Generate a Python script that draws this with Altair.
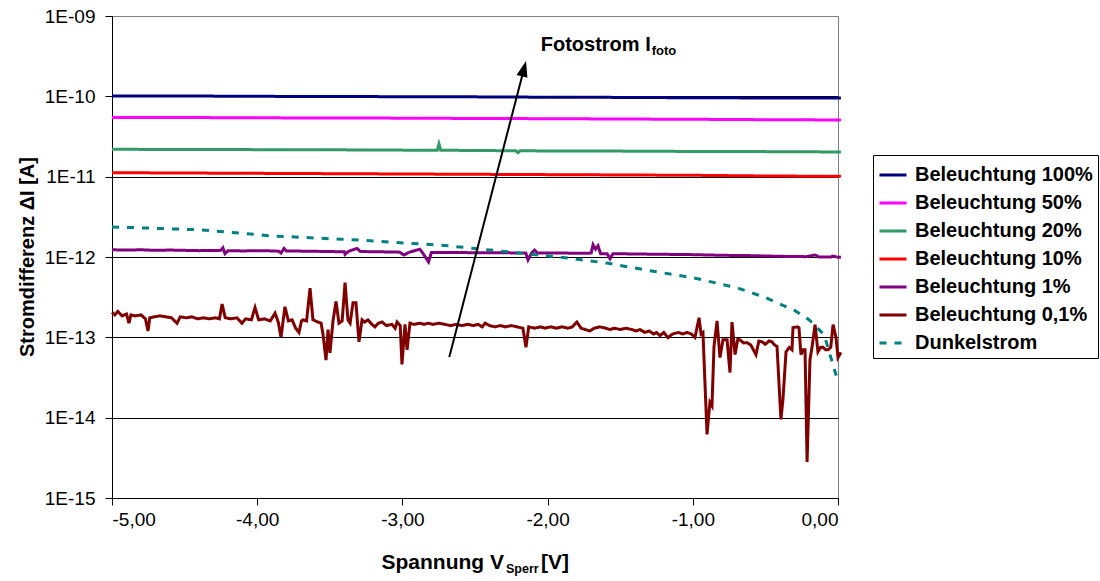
import altair as alt
import pandas as pd

FONT = "Liberation Sans"

series_names = ["Beleuchtung 100%", "Beleuchtung 50%", "Beleuchtung 20%", "Beleuchtung 10%",
                "Beleuchtung 1%", "Beleuchtung 0,1%", "Dunkelstrom"]
series_colors = ["#000080", "#FF00FF", "#339966", "#FF0000", "#800080", "#800000", "#008080"]
series_dash = [[1, 0], [1, 0], [1, 0], [1, 0], [1, 0], [1, 0], [7, 8]]
series_width = [3, 3, 3, 3, 3, 3.5, 4]

x_ticks = [-5, -4, -3, -2, -1, 0]
y_ticks = [1e-15, 1e-14, 1e-13, 1e-12, 1e-11, 1e-10, 1e-9]

# Beleuchtung 100 %
v_100 = [-5.0, -4.5, -4.0, -3.5, -3.0, -2.5, -2.0, -1.5, -1.0, -0.5, 0.0, 0.02]
i_100 = [1.01e-10, 1.01e-10, 1.0e-10, 0.995e-10, 0.99e-10, 0.985e-10, 0.975e-10, 0.97e-10, 0.96e-10, 0.955e-10, 0.95e-10, 0.95e-10]

# Beleuchtung 50 %
v_50 = [-5.0, -4.5, -4.0, -3.5, -3.0, -2.5, -2.0, -1.5, -1.0, -0.5, 0.0, 0.02]
i_50 = [5.45e-11, 5.45e-11, 5.4e-11, 5.38e-11, 5.35e-11, 5.3e-11, 5.27e-11, 5.22e-11, 5.18e-11, 5.12e-11, 5.08e-11, 5.07e-11]

# Beleuchtung 20 %
v_20 = [-5.0, -4.5, -4.0, -3.5, -3.0, -2.76, -2.748, -2.736, -2.5, -2.22, -2.204, -2.19, -2.0, -1.5, -1.0, -0.5, 0.0, 0.02]
i_20 = [2.19e-11, 2.18e-11, 2.17e-11, 2.16e-11, 2.14e-11, 2.13e-11, 2.55e-11, 2.13e-11, 2.12e-11, 2.1e-11, 1.99e-11, 2.1e-11, 2.09e-11, 2.08e-11, 2.06e-11, 2.05e-11, 2.03e-11, 2.03e-11]

# Beleuchtung 10 %
v_10 = [-5.0, -4.5, -4.0, -3.5, -3.0, -2.5, -2.0, -1.5, -1.0, -0.5, 0.0, 0.02]
i_10 = [1.12e-11, 1.11e-11, 1.1e-11, 1.09e-11, 1.08e-11, 1.07e-11, 1.06e-11, 1.05e-11, 1.04e-11, 1.02e-11, 1.01e-11, 1.01e-11]

# Beleuchtung 1 %
v_1 = [-5.0, -4.9, -4.8, -4.7, -4.6, -4.5, -4.4, -4.25, -4.236, -4.222, -4.2, -4.1, -3.95, -3.85,
       -3.836, -3.815, -3.8, -3.65, -3.5, -3.4, -3.395, -3.37, -3.312, -3.29, -3.15, -3.02, -2.99,
       -2.95, -2.88, -2.86, -2.82, -2.8, -2.65, -2.5, -2.35, -2.15, -2.135, -2.11, -2.09, -2.07,
       -1.9, -1.75, -1.70, -1.687, -1.67, -1.653, -1.635, -1.59, -1.570, -1.55, -1.4, -1.2, -1.0,
       -0.8, -0.6, -0.4, -0.22, -0.158, -0.13, -0.05, -0.034, 0.0, 0.02]
i_1 = [1.23e-12, 1.22e-12, 1.23e-12, 1.21e-12, 1.22e-12, 1.21e-12, 1.2e-12, 1.21e-12, 1.3e-12, 1.1e-12, 1.2e-12,
       1.19e-12, 1.2e-12, 1.18e-12, 1.12e-12, 1.28e-12, 1.19e-12, 1.18e-12, 1.17e-12, 1.16e-12, 1.08e-12,
       1.18e-12, 1.28e-12, 1.17e-12, 1.16e-12, 1.15e-12, 1.06e-12, 1.15e-12, 1.25e-12, 1.12e-12, 8.7e-13,
       1.14e-12, 1.14e-12, 1.13e-12, 1.13e-12, 1.12e-12, 9.2e-13, 1.12e-12, 1.22e-12, 1.12e-12, 1.12e-12,
       1.11e-12, 1.12e-12, 1.42e-12, 1.25e-12, 1.38e-12, 1.1e-12, 1.1e-12, 9.5e-13, 1.1e-12, 1.09e-12,
       1.08e-12, 1.07e-12, 1.05e-12, 1.04e-12, 1.02e-12, 1.01e-12, 1.06e-12, 1.0e-12, 1.0e-12, 1.03e-12,
       0.99e-12, 0.99e-12]

# Beleuchtung 0,1 %
v_01 = [-5.00, -4.98, -4.96, -4.93, -4.90, -4.883, -4.87, -4.84, -4.80, -4.77, -4.752, -4.74, -4.71,
        -4.67, -4.63, -4.59, -4.552, -4.53, -4.49, -4.45, -4.41, -4.37, -4.33, -4.29, -4.26, -4.242,
        -4.22, -4.18, -4.14, -4.105, -4.08, -4.04, -4.015, -3.99, -3.95, -3.91, -3.877, -3.855, -3.836,
        -3.809, -3.785, -3.760, -3.735, -3.712, -3.695, -3.685, -3.66, -3.636, -3.616, -3.60, -3.581,
        -3.56, -3.547, -3.526, -3.512, -3.499, -3.478, -3.457, -3.437, -3.415, -3.395, -3.375, -3.36,
        -3.340, -3.320, -3.299, -3.278, -3.26, -3.237, -3.21, -3.189, -3.165, -3.140, -3.11, -3.072,
        -3.05, -3.037, -3.015, -3.003, -2.982, -2.968, -2.948, -2.92, -2.88, -2.85, -2.824, -2.79,
        -2.75, -2.707, -2.67, -2.63, -2.590, -2.55, -2.51, -2.479, -2.45, -2.431, -2.40, -2.36, -2.328,
        -2.29, -2.25, -2.21, -2.17, -2.149, -2.13, -2.09, -2.05, -2.018, -1.98, -1.94, -1.90, -1.86,
        -1.83, -1.798, -1.77, -1.74, -1.708, -1.68, -1.64, -1.60, -1.57, -1.54, -1.50, -1.46, -1.42,
        -1.39, -1.364, -1.33, -1.30, -1.27, -1.25, -1.226, -1.20, -1.171, -1.14, -1.10, -1.07, -1.040,
        -1.01, -0.985, -0.957, -0.943, -0.930, -0.902, -0.882, -0.868, -0.854, -0.833, -0.813, -0.792,
        -0.764, -0.744, -0.730, -0.709, -0.690, -0.675, -0.65, -0.627, -0.60, -0.565, -0.545, -0.523,
        -0.50, -0.475, -0.455, -0.435, -0.420, -0.393, -0.379, -0.358, -0.335, -0.317, -0.310, -0.28,
        -0.269, -0.255, -0.240, -0.227, -0.213, -0.193, -0.179, -0.158, -0.138, -0.12, -0.103, -0.085,
        -0.069, -0.050, -0.034, -0.014, 0.000, 0.02]
i_01 = [2.05e-13, 1.9e-13, 2.1e-13, 1.85e-13, 1.95e-13, 1.5e-13, 1.9e-13, 1.85e-13, 1.9e-13, 1.7e-13,
        1.2e-13, 1.75e-13, 1.8e-13, 1.85e-13, 1.8e-13, 1.75e-13, 1.5e-13, 1.8e-13, 1.75e-13, 1.8e-13,
        1.7e-13, 1.75e-13, 1.7e-13, 1.75e-13, 1.7e-13, 2.6e-13, 1.75e-13, 1.7e-13, 1.75e-13, 1.5e-13,
        1.7e-13, 1.65e-13, 2.35e-13, 1.65e-13, 1.7e-13, 1.6e-13, 2.0e-13, 1.55e-13, 1.0e-13, 2.4e-13,
        1.6e-13, 1.65e-13, 1.3e-13, 1.15e-13, 1.6e-13, 1.65e-13, 1.6e-13, 4.1e-13, 1.65e-13, 1.6e-13,
        1.55e-13, 1.5e-13, 1.1e-13, 5.2e-14, 1.25e-13, 6.4e-14, 1.6e-13, 2.8e-13, 1.5e-13, 1.6e-13,
        4.8e-13, 1.65e-13, 1.5e-13, 2.7e-13, 2.7e-13, 8.8e-14, 1.65e-13, 1.55e-13, 1.65e-13, 1.45e-13,
        1.35e-13, 1.5e-13, 1.55e-13, 1.4e-13, 1.45e-13, 1.3e-13, 1.55e-13, 1.4e-13, 4.6e-14, 1.45e-13,
        7.0e-14, 1.5e-13, 1.45e-13, 1.5e-13, 1.45e-13, 1.5e-13, 1.45e-13, 1.5e-13, 1.45e-13, 1.4e-13,
        1.45e-13, 1.4e-13, 1.45e-13, 1.4e-13, 1.45e-13, 1.35e-13, 1.5e-13, 1.4e-13, 1.35e-13, 1.4e-13,
        1.35e-13, 1.4e-13, 1.35e-13, 1.3e-13, 7.5e-14, 1.35e-13, 1.3e-13, 1.35e-13, 1.3e-13, 1.35e-13,
        1.3e-13, 1.35e-13, 1.3e-13, 1.35e-13, 1.55e-13, 1.3e-13, 1.25e-13, 1.2e-13, 1.3e-13, 1.35e-13,
        1.3e-13, 1.25e-13, 1.3e-13, 1.25e-13, 1.3e-13, 1.25e-13, 1.2e-13, 1.25e-13, 1.15e-13, 1.2e-13,
        1.1e-13, 1.15e-13, 1.05e-13, 1.15e-13, 9.9e-14, 1.1e-13, 1.15e-13, 1.1e-13, 1.15e-13, 1.1e-13,
        1.0e-13, 1.75e-13, 1.1e-13, 1.15e-13, 6.2e-15, 1.55e-14, 1.4e-14, 7.7e-14, 1.6e-13, 5.6e-14,
        9.3e-14, 9.3e-14, 3.65e-14, 1.55e-13, 6.1e-14, 9.5e-14, 9.3e-14, 8.5e-14, 8.6e-14, 8.0e-14,
        6.1e-14, 9.0e-14, 8.8e-14, 8.2e-14, 9.0e-14, 8.8e-14, 8.0e-14, 7.7e-14, 9.5e-15, 1.7e-14,
        6.6e-14, 7.5e-14, 7.0e-14, 1.32e-13, 1.35e-13, 1.32e-13, 6.1e-14, 7.0e-14, 7.0e-14, 2.8e-15,
        5.3e-14, 7.5e-14, 1.44e-13, 6.6e-14, 7.5e-14, 7.5e-14, 7.0e-14, 7.0e-14, 7.5e-14, 1.44e-13,
        1.0e-13, 5.6e-14, 6.5e-14]

# Dunkelstrom
v_dark = [-5.0, -4.394, -3.898, -3.292, -2.707, -2.293, -1.894, -1.591, -1.295, -0.999, -0.696,
          -0.496, -0.296, -0.200, -0.096, 0.0]
i_dark = [2.37e-12, 2.18e-12, 1.83e-12, 1.62e-12, 1.39e-12, 1.17e-12, 9.86e-13, 8.4e-13, 6.74e-13,
          5.52e-13, 4.14e-13, 3.11e-13, 2.15e-13, 1.66e-13, 1.08e-13, 2.82e-14]

# Annotation arrow (data coordinates)
arrow_v = [-2.677]
arrow_i = [5.71e-14]
arrow_v2 = [-2.1625]
arrow_i2 = [2.21e-10]
arrow_angle = 14.5

series_v = [v_100, v_50, v_20, v_10, v_1, v_01, v_dark]
series_i = [i_100, i_50, i_20, i_10, i_1, i_01, i_dark]

rows = []
for name, vs, cs in zip(series_names, series_v, series_i):
    for k, (v, c) in enumerate(zip(vs, cs)):
        rows.append({"V": v, "I": c, "series": name, "k": k})
df = pd.DataFrame(rows)

legend = alt.Legend(
    orient="none", legendX=761, legendY=139, title=None,
    strokeColor="black", fillColor="white", padding=5, cornerRadius=0,
    labelFont=FONT, labelFontSize=20, labelFontWeight="bold", labelColor="black",
    symbolType="stroke", symbolSize=729, rowPadding=3,
    labelOffset=7, labelLimit=400,
)

x_enc = alt.X(
    "V:Q",
    scale=alt.Scale(domain=[-5, 0], nice=False, zero=False),
    axis=alt.Axis(
        values=x_ticks, title=None, grid=False, tickSize=7, labelPadding=5,
        labelFontSize=19, labelFont=FONT, labelColor="black",
        domainColor="black", tickColor="black",
        labelExpr="replace(replace(format(datum.value, '.2f'), '.', ','), '\u2212', '-')",
    ),
)
y_enc = alt.Y(
    "I:Q",
    scale=alt.Scale(type="log", domain=[1e-15, 1e-9], nice=False),
    axis=alt.Axis(
        values=y_ticks, title=None, grid=True,
        gridColor=alt.condition("datum.value > 5e-10", alt.value("#808080"), alt.value("black")),
        gridWidth=1, tickSize=7, labelPadding=10,
        labelFontSize=19, labelFont=FONT, labelColor="black",
        domainColor="black", tickColor="black",
        labelExpr="'1E-' + (round(-log(datum.value)/LN10) < 10 ? '0' : '') + round(-log(datum.value)/LN10)",
    ),
)

lines = alt.Chart(df).mark_line(clip=False).encode(
    x=x_enc,
    y=y_enc,
    color=alt.Color("series:N", scale=alt.Scale(domain=series_names, range=series_colors), legend=legend),
    strokeDash=alt.StrokeDash("series:N", scale=alt.Scale(domain=series_names, range=series_dash), legend=legend),
    strokeWidth=alt.StrokeWidth("series:N", scale=alt.Scale(domain=series_names, range=series_width), legend=legend),
    order=alt.Order("k:Q"),
)

arrow_df = pd.DataFrame({"V": arrow_v, "I": arrow_i, "V2": arrow_v2, "I2": arrow_i2})
arrow_line = alt.Chart(arrow_df).mark_rule(color="black", strokeWidth=2).encode(
    x="V:Q", y="I:Q", x2="V2:Q", y2="I2:Q"
)
arrow_head = alt.Chart(arrow_df).mark_point(
    shape="M0,-1L0.7,1L-0.7,1Z", filled=True, color="black", opacity=1, size=256, angle=arrow_angle
).encode(x="V2:Q", y="I2:Q")

ann_df = pd.DataFrame({"V": [-2.0475], "I": [3.67e-10], "t": ["Fotostrom I"]})
ann_sub_df = pd.DataFrame({"V": [-1.283], "I": [3.3e-10], "t": ["foto"]})
ann = alt.Chart(ann_df).mark_text(
    align="left", baseline="alphabetic", font=FONT, fontSize=20, fontWeight="bold", color="black"
).encode(x="V:Q", y="I:Q", text="t:N")
ann_sub = alt.Chart(ann_sub_df).mark_text(
    align="left", baseline="alphabetic", font=FONT, fontSize=13, fontWeight="bold", color="black"
).encode(x="V:Q", y="I:Q", text="t:N")

# axis titles with subscripts
xt_main = alt.Chart(pd.DataFrame({"t": ["Spannung V"]})).mark_text(
    align="right", baseline="alphabetic", font=FONT, fontSize=21, fontWeight="bold", color="black"
).encode(x=alt.value(392), y=alt.value(553), text="t:N")
xt_sub = alt.Chart(pd.DataFrame({"t": ["Sperr"]})).mark_text(
    align="left", baseline="alphabetic", font=FONT, fontSize=12.5, fontWeight="bold", color="black"
).encode(x=alt.value(394), y=alt.value(557), text="t:N")
xt_end = alt.Chart(pd.DataFrame({"t": ["[V]"]})).mark_text(
    align="left", baseline="alphabetic", font=FONT, fontSize=21, fontWeight="bold", color="black"
).encode(x=alt.value(429), y=alt.value(553), text="t:N")
yt = alt.Chart(pd.DataFrame({"t": ["Stromdifferenz \u0394I [A]"]})).mark_text(
    align="center", baseline="alphabetic", font=FONT, fontSize=20, fontWeight="bold", color="black", angle=270
).encode(x=alt.value(-78), y=alt.value(241), text="t:N")

chart = alt.layer(
    lines, arrow_line, arrow_head, ann, ann_sub, xt_main, xt_sub, xt_end, yt
).properties(
    width=726, height=482,
    autosize=alt.AutoSizeParams(type="none"),
    padding={"left": 112, "top": 16, "right": 262, "bottom": 83},
    background="white",
).configure_view(
    stroke="#808080", strokeWidth=1
)

chart.save("out.html", embed_options={"renderer": "svg", "actions": False})
